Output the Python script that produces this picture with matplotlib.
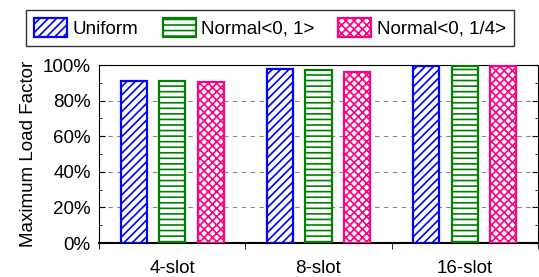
import numpy as np
import matplotlib.pyplot as plt
from matplotlib.ticker import MultipleLocator, PercentFormatter

plt.rcParams['font.family'] = ['Liberation Sans', 'DejaVu Sans']
plt.rcParams['hatch.linewidth'] = 1.2

categories = ['4-slot', '8-slot', '16-slot']
series = ['Uniform', 'Normal<0, 1>', 'Normal<0, 1/4>']
uniform = [91, 97.5, 99.6]
normal_1 = [91, 97, 99.5]
normal_q = [90.2, 96, 99.3]
values = [uniform, normal_1, normal_q]

colors = ['#0000ff', '#008000', '#ff0080']
hatches = ['////', '---', 'xxxx']
fs = 13.5

fig = plt.figure(figsize=(5.39, 2.77), dpi=100)
ax = fig.add_axes([99 / 539, 1 - 243 / 277, 439 / 539, 178 / 277])

x = np.arange(len(categories))
width = 0.178
step = 0.263
for i, (name, vals) in enumerate(zip(series, values)):
    ax.bar(x + (i - 1) * step, vals, width, facecolor='white',
           edgecolor=colors[i], hatch=hatches[i], linewidth=1.6,
           label=name, zorder=3)

ax.set_xlim(-0.5, 2.5)
ax.set_ylim(0, 100)
ax.set_xticks(x)
ax.set_xticklabels(categories, fontsize=fs)
ax.set_xticks(np.arange(-0.5, 3, 1), minor=True)
ax.tick_params(axis='x', which='major', length=0, pad=12)
ax.tick_params(axis='x', which='minor', length=4, direction='out')

ax.yaxis.set_major_locator(MultipleLocator(20))
ax.yaxis.set_minor_locator(MultipleLocator(10))
ax.yaxis.set_major_formatter(PercentFormatter(decimals=0))
ax.tick_params(axis='y', which='both', direction='in', right=True,
               labelsize=fs, pad=6)
ax.tick_params(axis='y', which='major', length=4)
ax.tick_params(axis='y', which='minor', length=2)
ax.grid(axis='y', linestyle=(0, (4, 4)), color='#888888', linewidth=0.8,
        zorder=0)
ax.set_ylabel('Maximum Load Factor', fontsize=fs, labelpad=4)
ax.spines['bottom'].set_linewidth(1.5)

leg = fig.legend(loc='center', bbox_to_anchor=(270 / 539, 1 - 28 / 277),
                 ncol=3, fontsize=fs, frameon=True, fancybox=False,
                 edgecolor='black', handlelength=1.76, handleheight=1.17,
                 columnspacing=1.3, handletextpad=0.27, borderpad=0.45)
leg.get_frame().set_linewidth(1.0)

fig.savefig('out.png', dpi=100)
